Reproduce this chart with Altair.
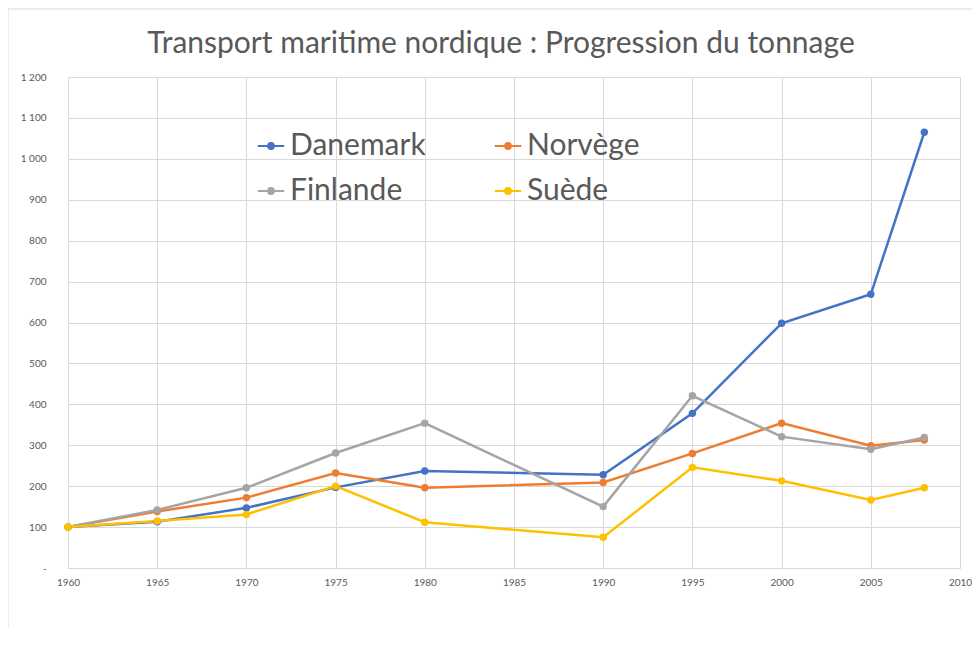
import altair as alt
import pandas as pd

years = [1960, 1965, 1970, 1975, 1980, 1990, 1995, 2000, 2005, 2008]
countries = ["Danemark", "Norvège", "Finlande", "Suède"]
danemark = [100, 113, 147, 197, 237, 228, 378, 598, 669, 1065]
norvege = [100, 138, 172, 232, 196, 209, 280, 354, 299, 313]
finlande = [100, 142, 196, 281, 354, 150, 421, 321, 290, 319]
suede = [100, 115, 131, 200, 112, 75, 246, 213, 166, 196]
colors = {"Danemark": "#4472C4", "Norvège": "#ED7D31", "Finlande": "#A5A5A5", "Suède": "#FFC000"}
# legend fills column by column: this order gives rows Danemark/Norvège and Finlande/Suède
legend_order = ["Danemark", "Finlande", "Norvège", "Suède"]
x_ticks = [1960, 1965, 1970, 1975, 1980, 1985, 1990, 1995, 2000, 2005, 2010]
y_ticks = [0, 100, 200, 300, 400, 500, 600, 700, 800, 900, 1000, 1100, 1200]

series = {"Danemark": danemark, "Norvège": norvege, "Finlande": finlande, "Suède": suede}
rows = []
for i, c in enumerate(countries):
    for y, v in zip(years, series[c]):
        rows.append({"Année": y, "Indice": v, "Pays": c, "ordre": i})
df = pd.DataFrame(rows)

FONT = "Lato"
TXT = "#595959"
GRID = "#d9d9d9"

x = alt.X("Année:Q",
          scale=alt.Scale(domain=[1960, 2010], nice=False, zero=False),
          axis=alt.Axis(values=x_ticks, format="d", title=None, ticks=False, tickSize=0,
                        labelPadding=9, labelFontSize=10, labelColor=TXT, labelFont=FONT,
                        domainColor=GRID, gridColor=GRID, labelFlush=False))
y = alt.Y("Indice:Q",
          scale=alt.Scale(domain=[0, 1200], nice=False),
          axis=alt.Axis(values=y_ticks, title=None, ticks=False, tickSize=0,
                        labelPadding=22, labelFontSize=10, labelColor=TXT, labelFont=FONT,
                        domainColor=GRID, gridColor=GRID,
                        labelExpr="datum.value == 0 ? '-' : replace(format(datum.value, ','), ',', ' ')"))
color = alt.Color("Pays:N",
                  scale=alt.Scale(domain=legend_order, range=[colors[c] for c in legend_order]),
                  legend=alt.Legend(title=None, orient="none", legendX=188, legendY=54,
                                    columns=2, columnPadding=64, rowPadding=15,
                                    labelFont=FONT, labelFontSize=30, labelColor=TXT,
                                    labelOffset=4, symbolSize=700, symbolStrokeWidth=2,
                                    symbolType="M-1,0L1,0M-0.22,0A0.22,0.22 0 1,1 0.22,0A0.22,0.22 0 1,1 -0.22,0Z"))

lines = alt.Chart(df).mark_line(
    strokeWidth=2.5, point=alt.OverlayMarkDef(filled=True, size=55, opacity=1)
).encode(x=x, y=y, color=color, detail="Pays:N", order="ordre:Q")

frame = alt.Chart(pd.DataFrame({"k": [0]})).mark_rect(
    fill=None, stroke=GRID, strokeWidth=1
).encode(x=alt.value(-60), x2=alt.value(1000), y=alt.value(-68), y2=alt.value(700))

chart = alt.layer(frame, lines).properties(
    width=892, height=491,
    title=alt.TitleParams("Transport maritime nordique : Progression du tonnage",
                          font=FONT, fontSize=30, fontWeight="normal", color=TXT,
                          anchor="middle", dx=-13, dy=98, offset=24, baseline="alphabetic"),
    autosize=alt.AutoSizeParams(type="none"),
    padding={"left": 60, "top": 69, "right": 12, "bottom": 60},
).configure_view(stroke=None).configure(background="white")

chart.save("out.html", embed_options={"renderer": "svg", "actions": False})
